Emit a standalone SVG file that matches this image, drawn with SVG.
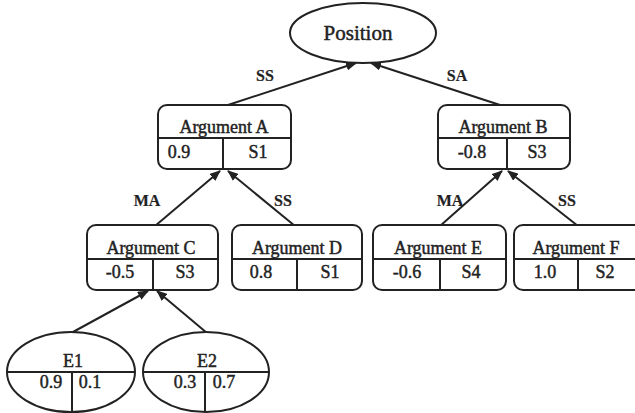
<svg xmlns="http://www.w3.org/2000/svg" width="635" height="413" viewBox="0 0 635 413" font-family="'Liberation Serif', 'Times New Roman', serif">
<style>
.box{fill:#fff;stroke:#222;stroke-width:2}
.ln{stroke:#222;stroke-width:2;fill:none}
.edge{stroke:#222;stroke-width:2;fill:none;marker-end:url(#arr)}
text{font-family:'Liberation Serif','Times New Roman',serif;fill:#222;stroke:#222;stroke-width:0.45;text-anchor:middle}
.t{font-size:18px}
.lbl{font-size:16px;font-weight:bold;stroke-width:0.2}
.pos{font-size:21px}
</style>
<defs>
<marker id="arr" markerUnits="userSpaceOnUse" markerWidth="11" markerHeight="9" refX="10" refY="4.5" orient="auto">
<path d="M0,0 L11,4.5 L0,9 z" fill="#222"/>
</marker>
</defs>
<rect width="635" height="413" fill="#fff"/>
<g id="connectors">
<line class="edge" x1="228" y1="105" x2="356" y2="63"/>
<line class="edge" x1="500" y1="105" x2="371" y2="63"/>
<line class="edge" x1="155" y1="226" x2="220" y2="171"/>
<line class="edge" x1="295" y1="226" x2="228" y2="171"/>
<line class="edge" x1="440" y1="226" x2="502" y2="171"/>
<line class="edge" x1="578" y1="226" x2="508" y2="171"/>
<line class="edge" x1="73" y1="332" x2="148" y2="291"/>
<line class="edge" x1="207" y1="333" x2="157" y2="291"/>
<text class="lbl" x="265" y="81">SS</text>
<text class="lbl" x="457" y="81">SA</text>
<text class="lbl" x="147" y="206">MA</text>
<text class="lbl" x="283" y="206">SS</text>
<text class="lbl" x="450" y="206">MA</text>
<text class="lbl" x="567" y="206">SS</text>
</g>
<g id="position">
<ellipse class="box" cx="363" cy="33" rx="73" ry="30"/>
<text class="pos" x="358" y="40">Position</text>
</g>
<g id="argA">
<rect class="box" x="158" y="105" width="133" height="64" rx="9"/>
<line class="ln" x1="158" y1="138" x2="291" y2="138"/>
<line class="ln" x1="223" y1="138" x2="223" y2="169"/>
<text class="t" x="224" y="133">Argument A</text>
<text class="t" x="179" y="158">0.9</text>
<text class="t" x="258" y="158">S1</text>
</g>
<g id="argB">
<rect class="box" x="438" y="105" width="132" height="64" rx="9"/>
<line class="ln" x1="438" y1="138" x2="570" y2="138"/>
<line class="ln" x1="507" y1="138" x2="507" y2="169"/>
<text class="t" x="503" y="133">Argument B</text>
<text class="t" x="472" y="158">-0.8</text>
<text class="t" x="537" y="158">S3</text>
</g>
<g id="argC">
<rect class="box" x="87" y="225" width="131" height="65" rx="9"/>
<line class="ln" x1="87" y1="259" x2="218" y2="259"/>
<line class="ln" x1="153" y1="259" x2="153" y2="290"/>
<text class="t" x="151" y="254">Argument C</text>
<text class="t" x="120" y="278">-0.5</text>
<text class="t" x="185" y="278">S3</text>
</g>
<g id="argD">
<rect class="box" x="232" y="225" width="130" height="65" rx="9"/>
<line class="ln" x1="232" y1="259" x2="362" y2="259"/>
<line class="ln" x1="297" y1="259" x2="297" y2="290"/>
<text class="t" x="297" y="254">Argument D</text>
<text class="t" x="261" y="278">0.8</text>
<text class="t" x="330" y="278">S1</text>
</g>
<g id="argE">
<rect class="box" x="373" y="225" width="133" height="65" rx="9"/>
<line class="ln" x1="373" y1="259" x2="506" y2="259"/>
<line class="ln" x1="440" y1="259" x2="440" y2="290"/>
<text class="t" x="438" y="254">Argument E</text>
<text class="t" x="407" y="278">-0.6</text>
<text class="t" x="471" y="278">S4</text>
</g>
<g id="argF">
<rect class="box" x="514" y="225" width="135" height="65" rx="9"/>
<line class="ln" x1="514" y1="259" x2="649" y2="259"/>
<line class="ln" x1="578" y1="259" x2="578" y2="290"/>
<text class="t" x="576" y="254">Argument F</text>
<text class="t" x="545" y="278">1.0</text>
<text class="t" x="605" y="278">S2</text>
</g>
<g id="E1">
<ellipse class="box" cx="71" cy="372" rx="64" ry="40"/>
<line class="ln" x1="7" y1="372" x2="135" y2="372"/>
<line class="ln" x1="72" y1="372" x2="72" y2="412"/>
<text class="t" x="73" y="367">E1</text>
<text class="t" x="51" y="388">0.9</text>
<text class="t" x="90" y="388">0.1</text>
</g>
<g id="E2">
<ellipse class="box" cx="206" cy="372" rx="63" ry="40"/>
<line class="ln" x1="143" y1="372" x2="269" y2="372"/>
<line class="ln" x1="205" y1="372" x2="205" y2="412"/>
<text class="t" x="207" y="367">E2</text>
<text class="t" x="185" y="388">0.3</text>
<text class="t" x="224" y="388">0.7</text>
</g>
</svg>
